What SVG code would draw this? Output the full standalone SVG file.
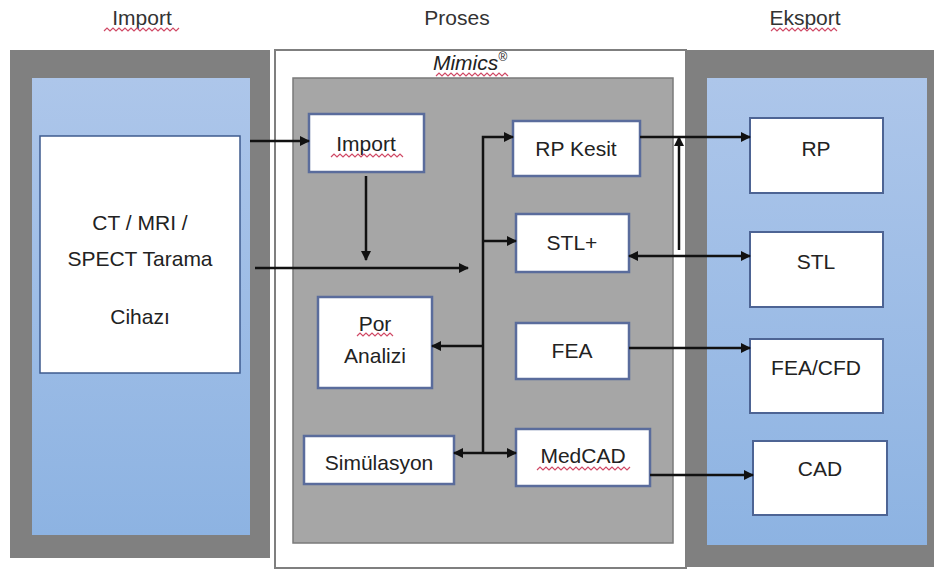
<svg xmlns="http://www.w3.org/2000/svg" width="938" height="573" viewBox="0 0 938 573">
<defs>
<linearGradient id="blue" x1="0" y1="0" x2="0" y2="1">
<stop offset="0" stop-color="#adc6ea"/>
<stop offset="1" stop-color="#8db3e2"/>
</linearGradient>
<marker id="ah" viewBox="0 0 10 10" refX="9" refY="5" markerWidth="4" markerHeight="4" orient="auto-start-reverse" markerUnits="strokeWidth">
<path d="M0,0 L10,5 L0,10 Z" fill="#111"/>
</marker>
</defs>
<style>
text{font-family:"Liberation Sans","DejaVu Sans",sans-serif;font-size:21px;fill:#222;text-anchor:middle}
.title{font-size:21px;fill:#333}
.box{fill:#fff;stroke:#5a6c9c;stroke-width:2.5}
.rbox{fill:#fff;stroke:#4d6494;stroke-width:2}
.gray{fill:#808080}
.con{fill:none;stroke:#111;stroke-width:2.5}
.arr{marker-end:url(#ah)}
.squig{fill:none;stroke:#d04a66;stroke-width:1.2}
</style>

<!-- titles -->
<g id="titles">
<text class="title" x="142" y="25">Import</text>
<text class="title" x="457" y="25">Proses</text>
<text class="title" x="805" y="25">Eksport</text>
<polyline class="squig" points="104,31 107,28 110,31 113,28 116,31 119,28 122,31 125,28 128,31 131,28 134,31 137,28 140,31 143,28 146,31 149,28 152,31 155,28 158,31 161,28 164,31 167,28 170,31 173,28 176,31 179,28"/>
<polyline class="squig" points="771,31 774,28 777,31 780,28 783,31 786,28 789,31 792,28 795,31 798,28 801,31 804,28 807,31 810,28 813,31 816,28 819,31 822,28 825,31 828,28 831,31 834,28 837,31"/>
</g>

<!-- panels -->
<g id="import-panel">
<rect class="gray" x="10" y="50" width="260" height="508"/>
<rect x="32" y="78" width="218" height="457" fill="url(#blue)"/>
</g>
<g id="process-panel">
<rect x="275" y="50" width="411" height="518" fill="#fff" stroke="#7f7f7f" stroke-width="2"/>
<rect x="293" y="78" width="380" height="465" fill="#a6a6a6" stroke="#7a7a7a" stroke-width="1.5"/>
<text x="470" y="70" font-style="italic" font-size="21">Mimics<tspan font-size="12" dy="-9">®</tspan></text>
<polyline class="squig" points="436,76 439,73 442,76 445,73 448,76 451,73 454,76 457,73 460,76 463,73 466,76 469,73 472,76 475,73 478,76 481,73 484,76 487,73 490,76 493,73 496,76 499,73 502,76 505,73 508,76"/>
</g>
<g id="export-panel">
<rect class="gray" x="687" y="50" width="247" height="517"/>
<rect x="707" y="78" width="220" height="467" fill="url(#blue)"/>
</g>

<!-- nodes -->
<g id="ct">
<rect x="40" y="136" width="200" height="237" fill="#fff" stroke="#3e5b8e" stroke-width="1.5"/>
<text x="140" y="230">CT / MRI /</text>
<text x="140" y="266">SPECT Tarama</text>
<text x="140" y="324">Cihazı</text>
</g>
<g id="import">
<rect class="box" x="309" y="114" width="115" height="58"/>
<text x="366" y="151">Import</text>
<polyline class="squig" points="331,157 334,154 337,157 340,154 343,157 346,154 349,157 352,154 355,157 358,154 361,157 364,154 367,157 370,154 373,157 376,154 379,157 382,154 385,157 388,154 391,157 394,154 397,157 400,154 403,157"/>
</g>
<g id="rp-kesit">
<rect class="box" x="513" y="121" width="127" height="55"/>
<text x="576" y="156">RP Kesit</text>
</g>
<g id="stl-plus">
<rect class="box" x="516" y="214" width="113" height="58"/>
<text x="572" y="250">STL+</text>
</g>
<g id="por-analizi">
<rect class="box" x="318" y="297" width="114" height="91"/>
<text x="375" y="331">Por</text>
<text x="375" y="363">Analizi</text>
<polyline class="squig" points="357,336 360,333 363,336 366,333 369,336 372,333 375,336 378,333 381,336 384,333 387,336 390,333 393,336"/>
</g>
<g id="fea">
<rect class="box" x="516" y="323" width="113" height="56"/>
<text x="572" y="358">FEA</text>
</g>
<g id="simulasyon">
<rect class="box" x="304" y="436" width="150" height="48"/>
<text x="379" y="470">Simülasyon</text>
</g>
<g id="medcad">
<rect class="box" x="516" y="429" width="134" height="57"/>
<text x="583" y="463">MedCAD</text>
<polyline class="squig" points="537,470 540,467 543,470 546,467 549,470 552,467 555,470 558,467 561,470 564,467 567,470 570,467 573,470 576,467 579,470 582,467 585,470 588,467 591,470 594,467 597,470 600,467 603,470 606,467 609,470 612,467 615,470 618,467 621,470 624,467 627,470 630,467"/>
</g>
<g id="rp">
<rect class="rbox" x="750" y="118" width="133" height="75"/>
<text x="816" y="156">RP</text>
</g>
<g id="stl">
<rect class="rbox" x="750" y="232" width="133" height="75"/>
<text x="816" y="269">STL</text>
</g>
<g id="fea-cfd">
<rect class="rbox" x="750" y="339" width="133" height="74"/>
<text x="816" y="375">FEA/CFD</text>
</g>
<g id="cad">
<rect class="rbox" x="753" y="441" width="134" height="74"/>
<text x="820" y="476">CAD</text>
</g>

<!-- connectors -->
<g id="connectors">
<path class="con arr" d="M250,141 H309"/>
<path class="con arr" d="M255,268 H468"/>
<path class="con arr" d="M366,176 V260"/>
<path class="con arr" d="M483,453 V137 H513"/>
<path class="con arr" d="M483,241 H516"/>
<path class="con arr" d="M483,346 H432"/>
<path class="con arr" d="M483,453 H454"/>
<path class="con arr" d="M483,453 H516"/>
<path class="con arr" d="M640,137 H750"/>
<path class="con arr" d="M679,250 V137"/>
<path class="con arr" d="M629,256 H750" marker-start="url(#ah)"/>
<path class="con arr" d="M629,348 H750"/>
<path class="con arr" d="M650,475 H753"/>
</g>
</svg>
